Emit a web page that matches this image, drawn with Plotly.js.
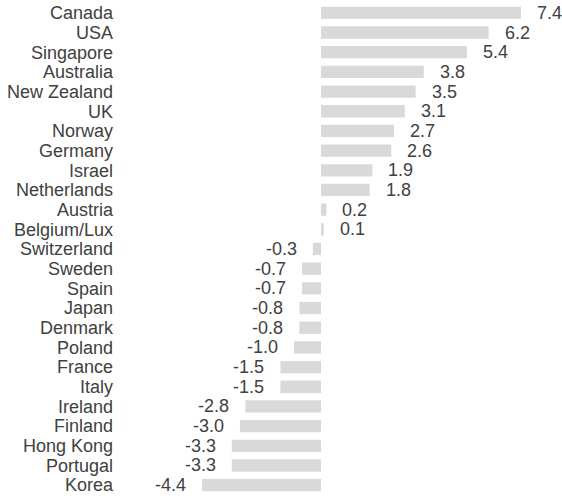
<!DOCTYPE html>
<html>
<head>
<meta charset="utf-8">
<script src="https://cdn.plot.ly/plotly-3.0.1.min.js"></script>
<style>
  html, body { margin: 0; padding: 0; background: #ffffff; }
  #chart { width: 562px; height: 499px; }
</style>
</head>
<body>
<div id="chart"></div>
<script>
// Markets, top to bottom
const countries = [
  "Canada", "USA", "Singapore", "Australia", "New Zealand", "UK", "Norway",
  "Germany", "Israel", "Netherlands", "Austria", "Belgium/Lux", "Switzerland",
  "Sweden", "Spain", "Japan", "Denmark", "Poland", "France", "Italy",
  "Ireland", "Finland", "Hong Kong", "Portugal", "Korea"
];

// Value per market
const values = [
  7.4, 6.2, 5.4, 3.8, 3.5, 3.1, 2.7,
  2.6, 1.9, 1.8, 0.2, 0.1, -0.3,
  -0.7, -0.7, -0.8, -0.8, -1.0, -1.5, -1.5,
  -2.8, -3.0, -3.3, -3.3, -4.4
];

const textColor = "#404040";
const barColor = "#d9d9d9";
const fontFamily = "'Liberation Sans', Arial, sans-serif";

const trace = {
  type: "bar",
  orientation: "h",
  x: values,
  y: countries,
  marker: { color: barColor, line: { width: 0 } },
  hoverinfo: "none"
};

// Value labels sit just beyond the end of each bar
const labels = countries.map((c, i) => {
  const v = values[i];
  return {
    x: v,
    y: c,
    xref: "x",
    yref: "y",
    text: v.toFixed(1),
    showarrow: false,
    xanchor: v >= 0 ? "left" : "right",
    xshift: v >= 0 ? 14 : -14,
    font: { family: fontFamily, size: 18, color: textColor }
  };
});

const layout = {
  width: 562,
  height: 499,
  margin: { l: 120, r: 0, t: 3, b: 4 },
  paper_bgcolor: "#ffffff",
  plot_bgcolor: "#ffffff",
  showlegend: false,
  bargap: 0.375,
  xaxis: {
    range: [-7.436, 8.916],
    showgrid: false,
    zeroline: false,
    showline: false,
    showticklabels: false,
    ticks: ""
  },
  yaxis: {
    type: "category",
    categoryorder: "array",
    categoryarray: countries,
    tickmode: "array",
    tickvals: countries,
    ticktext: countries,
    range: [24.5, -0.5],
    showgrid: false,
    zeroline: false,
    showline: false,
    ticks: "",
    ticklabelstandoff: 6,
    tickfont: { family: fontFamily, size: 18, color: textColor },
    automargin: false
  },
  annotations: labels
};

Plotly.newPlot("chart", [trace], layout, { displayModeBar: false, staticPlot: true });
</script>
</body>
</html>
